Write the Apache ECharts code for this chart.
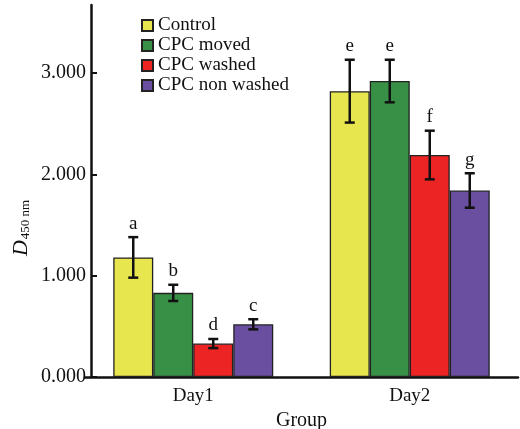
<!DOCTYPE html>
<html>
<head>
<meta charset="utf-8">
<script src="https://cdn.jsdelivr.net/npm/echarts@6/dist/echarts.min.js"></script>
<style>
  html, body { margin: 0; padding: 0; background: #fff; }
  #chart { width: 520px; height: 429px; }
</style>
</head>
<body>
<div id="chart"></div>
<script>
const groups = ['Day1', 'Day2']
const seriesNames = ['Control', 'CPC moved', 'CPC washed', 'CPC non washed']
const colors = ['#e8e64e', '#389046', '#ec2424', '#6a4fa0']
const control = [1.18, 2.82]
const cpcMoved = [0.83, 2.92]
const cpcWashed = [0.33, 2.19]
const cpcNonWashed = [0.52, 1.84]
const controlErr = [0.20, 0.31]
const cpcMovedErr = [0.08, 0.21]
const cpcWashedErr = [0.045, 0.24]
const cpcNonWashedErr = [0.05, 0.17]
const controlMark = ['a', 'e']
const cpcMovedMark = ['b', 'e']
const cpcWashedMark = ['d', 'f']
const cpcNonWashedMark = ['c', 'g']
const yTicks = [0, 1, 2, 3]

const values = [control, cpcMoved, cpcWashed, cpcNonWashed]
const errs = [controlErr, cpcMovedErr, cpcWashedErr, cpcNonWashedErr]
const marks = [controlMark, cpcMovedMark, cpcWashedMark, cpcNonWashedMark]

const barW = 40
const font = '"Liberation Serif", "DejaVu Serif", serif'

const chart = echarts.init(document.getElementById('chart'))

const barSeries = seriesNames.map((name, i) => ({
  name: name,
  type: 'bar',
  barWidth: barW,
  barGap: '0%',
  itemStyle: { color: colors[i], borderColor: '#222', borderWidth: 1.3 },
  data: values[i]
}))

// error bars + significance letters, drawn on top of each bar
const errSeries = seriesNames.map((name, i) => ({
  type: 'custom',
  silent: true,
  z: 5,
  data: groups.map((g, j) => [j, values[i][j], errs[i][j]]),
  renderItem: function (params, api) {
    const idx = api.value(0)
    const v = api.value(1)
    const e = api.value(2)
    const off = (i - 1.5) * barW
    const hi = api.coord([idx, v + e])
    const lo = api.coord([idx, v - e])
    const x = hi[0] + off
    const cap = 5
    const style = { stroke: '#111', lineWidth: 2.5 }
    return {
      type: 'group',
      children: [
        { type: 'line', shape: { x1: x, y1: hi[1], x2: x, y2: lo[1] }, style: style },
        { type: 'line', shape: { x1: x - cap, y1: hi[1], x2: x + cap, y2: hi[1] }, style: style },
        { type: 'line', shape: { x1: x - cap, y1: lo[1], x2: x + cap, y2: lo[1] }, style: style },
        {
          type: 'text',
          x: x,
          y: hi[1] - 4,
          style: {
            text: marks[i][idx],
            fill: '#111',
            font: '19px ' + font,
            align: 'center',
            verticalAlign: 'bottom'
          }
        }
      ]
    }
  }
}))

const option = {
  backgroundColor: '#fff',
  animation: false,
  textStyle: { fontFamily: font },
  legend: {
    data: seriesNames,
    orient: 'vertical',
    left: 136,
    top: 11,
    itemWidth: 11,
    itemHeight: 11,
    itemGap: 1,
    icon: 'rect',
    textStyle: { fontFamily: font, fontSize: 19, color: '#111' }
  },
  graphic: [{
    type: 'text',
    x: 21,
    y: 228,
    rotation: Math.PI / 2,
    style: {
      text: '{i|D}{s|450 nm}',
      align: 'center',
      verticalAlign: 'middle',
      rich: {
        i: { fontFamily: font, fontStyle: 'italic', fontSize: 22, fill: '#111' },
        s: { fontFamily: font, fontSize: 13, fill: '#111', padding: [9, 0, 0, 1] }
      }
    }
  }],
  grid: { left: 85, right: 2, top: 5, bottom: 52, outerBoundsMode: 'none', containLabel: false },
  xAxis: {
    type: 'category',
    data: groups,
    name: 'Group',
    nameLocation: 'middle',
    nameGap: 27,
    nameTextStyle: { fontFamily: font, fontSize: 20, color: '#111' },
    axisLine: { lineStyle: { color: '#111', width: 2.5 } },
    axisTick: { show: false },
    axisLabel: { fontFamily: font, fontSize: 19, color: '#111', margin: 10 }
  },
  yAxis: {
    type: 'value',
    min: 0,
    max: 3.67,
    interval: 1,
    offset: -6,
    splitLine: { show: false },
    axisLine: { show: true, lineStyle: { color: '#111', width: 2.5 } },
    axisTick: { show: true, inside: true, length: 6, customValues: yTicks, lineStyle: { width: 2 } },
    axisLabel: {
      customValues: yTicks,
      fontFamily: font,
      fontSize: 20,
      color: '#111',
      margin: 5,
      formatter: v => v.toFixed(3)
    }
  },
  series: barSeries.concat(errSeries)
}

chart.setOption(option)
</script>
</body>
</html>
